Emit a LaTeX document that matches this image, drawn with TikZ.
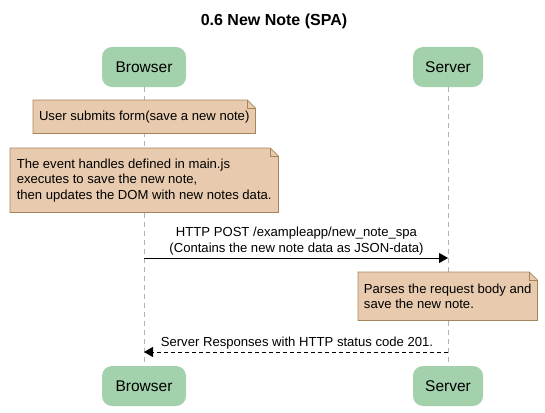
\documentclass[tikz,border=0pt]{standalone}
\usepackage{fontspec}
\setmainfont{Liberation Sans}
\usetikzlibrary{arrows.meta}
\definecolor{partfill}{RGB}{162,209,171}
\definecolor{notefill}{RGB}{232,203,174}
\definecolor{notedraw}{RGB}{166,132,90}

\begin{document}
\begin{tikzpicture}[x=1pt,y=-1pt,
		actor/.style={fill=partfill, rounded corners=10pt, minimum height=40pt, font=\fontsize{15.5}{18}\selectfont},
		note/.style={fill=notefill, align=left, anchor=north west, font=\fontsize{13.1}{15.5}\selectfont},
		msg/.style={-{Triangle[length=9pt,width=10pt]}, line width=0.9pt},
		lifeline/.style={black!30, dash pattern=on 5pt off 4pt, line width=0.7pt},
		msglabel/.style={font=\fontsize{13.1}{15.5}\selectfont, align=center, inner sep=1pt, anchor=south}]
		\useasboundingbox (0,0) rectangle (545,412);

		%title
		\node[font=\bfseries\fontsize{16}{19}\selectfont] (title) at (274,21) {0.6 New Note (SPA)};

		%participants top & bottom
		\node[actor, minimum width=84pt] (bt) at (144,67) {Browser};
		\node[actor, minimum width=70pt] (st) at (448,67) {Server};
		\node[actor, minimum width=84pt] (bb) at (144,386) {Browser};
		\node[actor, minimum width=70pt] (sb) at (448,386) {Server};

		%draw lifelines
		\draw[lifeline] (bt) -- (bb);
		\draw[lifeline] (st) -- (sb);

		%notes
		\node[note, minimum width=222pt, minimum height=33pt] (note1) at (33,100) {User submits form(save a new note)};
		\node[note, minimum width=268pt, minimum height=64pt] (note2) at (10,148) {The event handles defined in main.js\\executes to save the new note,\\then updates the DOM with new notes data.};
		\node[note, minimum width=179pt, minimum height=48pt] (note3) at (358,272) {Parses the request body and\\save the new note.};

		%folded corners
		\foreach \n in {note1,note2,note3}
		{
		\fill[white] ([xshift=-8pt]\n.north east) -- (\n.north east) -- ([yshift=-8pt]\n.north east) -- cycle;
		\draw[notedraw, line width=0.8pt] (\n.north west) -- ([xshift=-8pt]\n.north east) -- ([yshift=-8pt]\n.north east) -- (\n.south east) -- (\n.south west) -- cycle;
		\draw[notedraw, line width=0.8pt] ([xshift=-8pt]\n.north east) |- ([yshift=-8pt]\n.north east);
		}

		%messages
		\coordinate (m1) at (0,258);
		\coordinate (m2) at (0,352);
		\draw[msg] (bt |- m1) -- (st |- m1);
		\node[msglabel] (lab1) at (296.5,256) {HTTP POST /exampleapp/new\_note\_spa\\(Contains the new note data as JSON-data)};
		\draw[msg, dash pattern=on 4pt off 3pt] (st |- m2) -- (bt |- m2);
		\node[msglabel] (lab2) at (297,350) {Server Responses with HTTP status code 201.};
\end{tikzpicture}
\end{document}
